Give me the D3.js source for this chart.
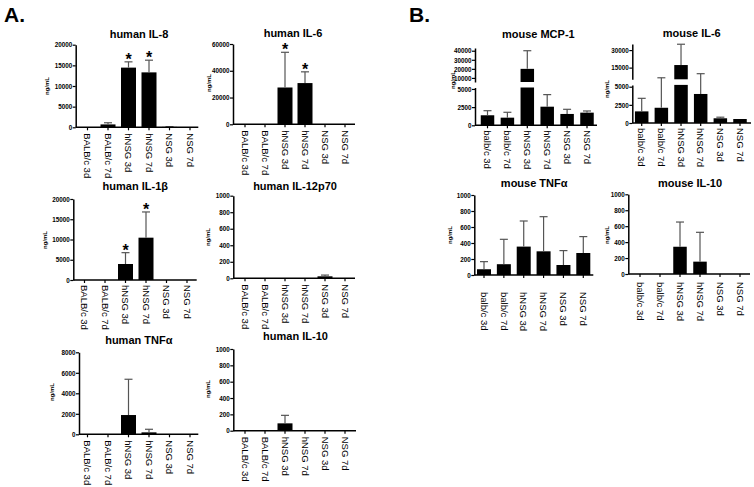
<!DOCTYPE html>
<html>
<head>
<meta charset="utf-8">
<script src="https://cdn.jsdelivr.net/npm/d3@7"></script>
<style>
  body { margin: 0; background: #fff; }
  svg { display: block; font-family: "Liberation Sans", Arial, sans-serif; }
</style>
</head>
<body>
<div id="viz"></div>
<script>
// group names
const humanGroups = ["BALB/c 3d", "BALB/c 7d", "hNSG 3d", "hNSG 7d", "NSG 3d", "NSG 7d"];
const mouseGroups = ["balb/c 3d", "balb/c 7d", "hNSG 3d", "hNSG 7d", "NSG 3d", "NSG 7d"];

// means and SEM (ng/mL)
const hIL8 = [0, 700, 14450, 13300, 100, 0],
    hIL8Err = [0, 400, 1400, 2950, 50, 0];
const hIL6 = [0, 0, 27500, 30800, 0, 0],
    hIL6Err = [0, 0, 26300, 8400, 0, 0];
const hIL1b = [0, 0, 3950, 10450, 0, 0],
    hIL1bErr = [0, 0, 2800, 6350, 0, 0];
const hIL12 = [0, 0, 0, 0, 24, 0],
    hIL12Err = [0, 0, 0, 0, 15, 0];
const hTNF = [0, 0, 1880, 190, 0, 0],
    hTNFErr = [0, 0, 3490, 300, 0, 0];
const hIL10 = [4, 2, 90, 0, 0, 0],
    hIL10Err = [0, 0, 98, 0, 0, 0];

const mMCP1 = [1380, 1050, 20000, 2560, 1560, 1740],
    mMCP1Err = [630, 740, 20000, 1660, 640, 230];
const mIL6 = [1600, 2100, 17200, 4000, 650, 550],
    mIL6Err = [1800, 4200, 17800, 5800, 150, 0];
const mTNF = [72, 135, 355, 296, 125, 275],
    mTNFErr = [95, 311, 320, 433, 180, 205];
const mIL10 = [0, 0, 342, 155, 0, 0],
    mIL10Err = [0, 0, 310, 368, 0, 0];

// significance stars (group index)
const starsIL8 = [2, 3], starsIL6 = [2, 3], starsIL1b = [2, 3];

// tick values
const ticks20k = [0, 5000, 10000, 15000, 20000],
    ticks60k = [0, 20000, 40000, 60000],
    ticks8k = [0, 2000, 4000, 6000, 8000],
    ticks1k = [0, 200, 400, 600, 800, 1000],
    ticksLow = [0, 2500, 5000],
    ticksMCPHigh = [10000, 20000, 30000, 40000],
    ticksIL6High = [15000, 30000];

// layout of each panel (pixel positions)
const panels = [
  {title: "human IL-8", groups: humanGroups, vals: hIL8, err: hIL8Err, stars: starsIL8,
   ax: 75.7, xEnd: 198.3, c0: 87.5, c1: 190, bw: 15, tx: 139, ty: 37.5, ux: 47, uy: 86, gap: 6,
   segs: [{domain: [0, 20000], range: [127.3, 44.7], ticks: ticks20k}]},
  {title: "human IL-6", groups: humanGroups, vals: hIL6, err: hIL6Err, stars: starsIL6,
   ax: 233, xEnd: 355, c0: 245, c1: 345, bw: 15, tx: 293, ty: 36.5, ux: 209, uy: 83, gap: 6,
   segs: [{domain: [0, 60000], range: [124.3, 44], ticks: ticks60k}]},
  {title: "human IL-1β", groups: humanGroups, vals: hIL1b, err: hIL1bErr, stars: starsIL1b,
   ax: 73.3, xEnd: 196.7, c0: 84.5, c1: 187, bw: 15, tx: 135.3, ty: 190, ux: 45, uy: 240, gap: 5,
   segs: [{domain: [0, 20000], range: [280, 199], ticks: ticks20k}]},
  {title: "human IL-12p70", groups: humanGroups, vals: hIL12, err: hIL12Err, stars: [],
   ax: 233.3, xEnd: 355, c0: 245, c1: 345, bw: 15, tx: 295, ty: 190, ux: 208.3, uy: 237, gap: 6,
   segs: [{domain: [0, 1000], range: [278.3, 195.7], ticks: ticks1k}]},
  {title: "human TNFα", groups: humanGroups, vals: hTNF, err: hTNFErr, stars: [],
   ax: 79, xEnd: 198.3, c0: 87.5, c1: 190, bw: 15, tx: 138.8, ty: 344, ux: 51.7, uy: 392, gap: 6,
   segs: [{domain: [0, 8000], range: [434.3, 352.3], ticks: ticks8k}]},
  {title: "human IL-10", groups: humanGroups, vals: hIL10, err: hIL10Err, stars: [],
   ax: 233.3, xEnd: 356, c0: 245, c1: 345, bw: 15, tx: 295.5, ty: 340, ux: 208.3, uy: 389, gap: 6,
   segs: [{domain: [0, 1000], range: [430.7, 349], ticks: ticks1k}]},
  {title: "mouse MCP-1", groups: mouseGroups, vals: mMCP1, err: mMCP1Err, stars: [],
   ax: 475, xEnd: 597, c0: 487.5, c1: 587, bw: 13.5, tx: 538.3, ty: 38.3, ux: 453, uy: 80, gap: 5,
   segs: [{domain: [0, 5200], range: [125.3, 87.5], ticks: ticksLow},
          {domain: [5500, 43000], range: [82, 48], ticks: ticksMCPHigh}]},
  {title: "mouse IL-6", groups: mouseGroups, vals: mIL6, err: mIL6Err, stars: [],
   ax: 632.3, xEnd: 751, c0: 641.7, c1: 740, bw: 13.5, tx: 691.7, ty: 36.5, ux: 607, uy: 89, gap: 5,
   segs: [{domain: [0, 5250], range: [123, 84.9], ticks: ticksLow},
          {domain: [5000, 35200], range: [79.3, 44], ticks: ticksIL6High}]},
  {title: "mouse TNFα", groups: mouseGroups, vals: mTNF, err: mTNFErr, stars: [],
   ax: 474.3, xEnd: 593.3, c0: 484, c1: 583.3, bw: 14, tx: 534.2, ty: 187.3, ux: 450, uy: 235, gap: 17,
   segs: [{domain: [0, 1000], range: [275, 195], ticks: ticks1k}]},
  {title: "mouse IL-10", groups: mouseGroups, vals: mIL10, err: mIL10Err, stars: [],
   ax: 628.3, xEnd: 750, c0: 640, c1: 740, bw: 13.5, tx: 690, ty: 186.7, ux: 606.7, uy: 235, gap: 8,
   segs: [{domain: [0, 1000], range: [274, 194.3], ticks: ticks1k}]}
];

window.onload = function main () {

const svg = d3.select("#viz").append("svg")
    .attr("width", 754)
    .attr("height", 487);

// panel letters
svg.append("text").attr("x", 4).attr("y", 22)
    .attr("font-size", 21).attr("font-weight", "bold").text("A.");
svg.append("text").attr("x", 409).attr("y", 22)
    .attr("font-size", 21).attr("font-weight", "bold").text("B.");

function drawPanel(p) {
  const g = svg.append("g");
  const x = d3.scalePoint().domain(p.groups).range([p.c0, p.c1]);
  const segs = p.segs.map(s => Object.assign({}, s, {
    scale: d3.scaleLinear().domain(s.domain).range(s.range)
  }));
  const y0 = segs[0].range[0];

  // piecewise y for error bars / stars
  function y(v) {
    if (segs.length === 1 || v <= segs[0].domain[1]) return segs[0].scale(v);
    return segs[1].scale(Math.max(v, segs[1].domain[0]));
  }

  // bars, clipped per axis segment
  segs.forEach(s => {
    g.append("g").selectAll("rect")
      .data(p.vals.map((v, i) => ({v: v, i: i})).filter(d => d.v > s.domain[0]))
      .enter().append("rect")
        .attr("x", d => x(p.groups[d.i]) - p.bw / 2)
        .attr("width", p.bw)
        .attr("y", d => s.scale(Math.min(d.v, s.domain[1])))
        .attr("height", d => s.scale(s.domain[0]) - s.scale(Math.min(d.v, s.domain[1])))
        .attr("fill", "#000");
  });

  // error bars (upper only)
  const eb = g.append("g").attr("stroke", "#555").attr("stroke-width", 1.2);
  p.vals.forEach((v, i) => {
    if (p.err[i] <= 0) return;
    const cx = x(p.groups[i]), top = y(v + p.err[i]);
    eb.append("line").attr("x1", cx).attr("x2", cx).attr("y1", y(v)).attr("y2", top);
    eb.append("line").attr("x1", cx - 4).attr("x2", cx + 4).attr("y1", top).attr("y2", top);
  });

  // stars
  p.stars.forEach(i => {
    g.append("text")
      .attr("x", x(p.groups[i]))
      .attr("y", y(p.vals[i] + p.err[i]) + 3)
      .attr("text-anchor", "middle")
      .attr("font-size", 16).attr("font-weight", "bold")
      .text("*");
  });

  // y axis segments
  segs.forEach(s => {
    const ax = g.append("g")
      .attr("transform", "translate(" + p.ax + ",0)")
      .call(d3.axisLeft(s.scale).tickValues(s.ticks).tickSize(3).tickSizeOuter(0).tickFormat(d3.format("d")));
    ax.select(".domain").attr("stroke-width", 1.5);
    ax.selectAll(".tick line").attr("stroke-width", 1.2);
    ax.selectAll(".tick text")
      .attr("font-size", 6.3).attr("font-weight", "bold")
      .attr("font-family", "Liberation Sans, Arial, sans-serif")
      .attr("x", -3.5).attr("dy", "0.35em");
  });

  // x axis line + ticks
  g.append("line")
    .attr("x1", p.ax).attr("x2", p.xEnd).attr("y1", y0).attr("y2", y0)
    .attr("stroke", "#000").attr("stroke-width", 1.5);
  g.append("g").selectAll("line")
    .data(p.groups).enter().append("line")
      .attr("x1", d => x(d)).attr("x2", d => x(d))
      .attr("y1", y0).attr("y2", y0 + 3)
      .attr("stroke", "#000").attr("stroke-width", 1.2);

  // category labels, rotated
  g.append("g").selectAll("text")
    .data(p.groups).enter().append("text")
      .attr("transform", d => "translate(" + x(d) + "," + (y0 + p.gap) + ") rotate(90)")
      .attr("dy", "0.35em")
      .attr("font-size", 9.5)
      .text(d => d);

  // title
  g.append("text")
    .attr("x", p.tx).attr("y", p.ty)
    .attr("text-anchor", "middle")
    .attr("font-size", 11).attr("font-weight", "bold")
    .text(p.title);

  // unit label
  g.append("text")
    .attr("transform", "translate(" + p.ux + "," + p.uy + ") rotate(-90)")
    .attr("text-anchor", "middle")
    .attr("dy", "0.35em")
    .attr("font-size", 6).attr("font-weight", "bold")
    .text("ng/mL");
}

panels.forEach(drawPanel);

};
</script>
</body>
</html>
